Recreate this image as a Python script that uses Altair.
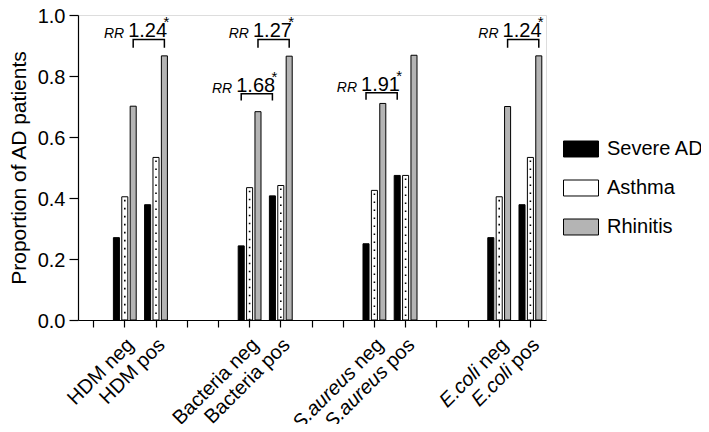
import altair as alt
import pandas as pd

FONT = "Liberation Sans, Arial, Helvetica, sans-serif"

# ---- data ----
slots = ["_0", "HDM neg", "HDM pos", "_3", "_4", "Bacteria neg", "Bacteria pos", "_7", "_8",
         "S.aureus neg", "S.aureus pos", "_11", "_12", "E.coli neg", "E.coli pos"]
categories = ["HDM neg", "HDM pos", "Bacteria neg", "Bacteria pos",
              "S.aureus neg", "S.aureus pos", "E.coli neg", "E.coli pos"]
label_italic = ["", "", "", "", "S.aureus", "S.aureus", "E.coli", "E.coli"]
label_plain = ["HDM neg", "HDM pos", "Bacteria neg", "Bacteria pos", "neg", "pos", "neg", "pos"]
series = ["Severe AD", "Asthma", "Rhinitis"]
severe_ad = [0.270, 0.378, 0.243, 0.407, 0.250, 0.474, 0.270, 0.378]
asthma = [0.404, 0.533, 0.434, 0.441, 0.425, 0.474, 0.404, 0.533]
rhinitis = [0.701, 0.866, 0.683, 0.865, 0.710, 0.868, 0.700, 0.866]
y_ticks = [0.0, 0.2, 0.4, 0.6, 0.8, 1.0]

br_left = ["HDM neg", "Bacteria neg", "Bacteria neg", "S.aureus neg", "E.coli neg"]
br_right = ["HDM pos", "Bacteria pos", "Bacteria pos", "S.aureus pos", "E.coli pos"]
br_series = ["Rhinitis", "Severe AD", "Rhinitis", "Severe AD", "Rhinitis"]
br_rr = ["1.24", "1.68", "1.27", "1.91", "1.24"]
br_top = [0.920, 0.742, 0.920, 0.745, 0.920]
br_tip = [0.893, 0.720, 0.893, 0.722, 0.893]

# ---- tables ----
rows = []
for s, vals in zip(series, [severe_ad, asthma, rhinitis]):
    for c, v in zip(categories, vals):
        rows.append({"category": c, "series": s, "value": v})
df = pd.DataFrame(rows)

lab_df = pd.DataFrame({"category": categories, "italic": label_italic, "plain": label_plain})

brows = []
for i in range(len(br_left)):
    pts = [(br_left[i], br_tip[i]), (br_left[i], br_top[i]),
           (br_right[i], br_top[i]), (br_right[i], br_tip[i])]
    for k, (c, y) in enumerate(pts):
        brows.append({"bid": i, "ord": k, "category": c, "series": br_series[i], "y": y})
br_df = pd.DataFrame(brows)
br_info = pd.DataFrame({"left": br_left, "right": br_right, "series": br_series,
                        "rr": br_rr, "top": br_top})

W, H = 468, 305

x_enc = alt.X("category:N",
              scale=alt.Scale(domain=slots, paddingInner=0, paddingOuter=0),
              axis=alt.Axis(labels=False, title=None, tickSize=7, tickColor="black",
                            tickWidth=1.2, domainColor="black", domainWidth=1.2, grid=False))
xo_enc = alt.XOffset("series:N", scale=alt.Scale(domain=series, paddingInner=0.28, paddingOuter=0.5))
y_scale = alt.Scale(domain=[0, 1])

bars = alt.Chart(df).mark_bar(stroke="black", strokeWidth=1).encode(
    x=x_enc,
    xOffset=xo_enc,
    y=alt.Y("value:Q", scale=y_scale,
            axis=alt.Axis(values=y_ticks, format=".1f", title="Proportion of AD patients",
                          titleFontSize=21, titleFont=FONT, titleFontWeight="normal",
                          titleColor="black", titlePadding=8,
                          labelFontSize=20, labelFont=FONT, labelColor="black",
                          labelPadding=4, labelOffset=1,
                          tickSize=9, tickColor="black", tickWidth=1.2,
                          domainColor="black", domainWidth=1.2, grid=False)),
    fill=alt.Fill("series:N",
                  scale=alt.Scale(domain=series, range=["#000000", "#ffffff", "#b4b4b4"]),
                  legend=alt.Legend(title=None, orient="none", legendX=485, legendY=116,
                                    symbolType="M-1,-0.457H1V0.457H-1Z", symbolSize=1225,
                                    symbolStrokeColor="black", symbolStrokeWidth=1,
                                    labelFontSize=20, labelFont=FONT, labelColor="black",
                                    labelOffset=8, rowPadding=11, padding=0)),
)

dots = alt.Chart(df).transform_filter(alt.datum.series == "Asthma").mark_rule(
    color="black", strokeWidth=1.6, strokeDash=[1.6, 6.4], strokeDashOffset=-3
).encode(
    x=alt.X("category:N"),
    xOffset=alt.XOffset("series:N"),
    y=alt.Y("value:Q"),
    y2=alt.datum(0),
)

brackets = alt.Chart(br_df).mark_line(color="black", strokeWidth=1.5).encode(
    x=alt.X("category:N"),
    xOffset=alt.XOffset("series:N"),
    y=alt.Y("y:Q"),
    detail="bid:N",
    order=alt.Order("ord:Q"),
)

rr_vals = alt.Chart(br_info).mark_text(align="left", baseline="alphabetic", dx=-5, dy=-2,
                                       fontSize=20, font=FONT, color="black").encode(
    x=alt.X("left:N"), xOffset=alt.XOffset("series:N"), y=alt.Y("top:Q"), text="rr:N")

rr_lbl = alt.Chart(br_info).mark_text(text="RR", align="right", baseline="alphabetic", dx=-9,
                                      dy=-1, fontSize=14, fontStyle="italic", font=FONT,
                                      color="black").encode(
    x=alt.X("left:N"), xOffset=alt.XOffset("series:N"), y=alt.Y("top:Q"))

stars = alt.Chart(br_info).mark_text(text="*", align="left", baseline="alphabetic", dx=-1,
                                     dy=-12, fontSize=15, font=FONT, color="black").encode(
    x=alt.X("right:N"), xOffset=alt.XOffset("series:N"), y=alt.Y("top:Q"))

LBL_Y = 327
xl_plain = alt.Chart(lab_df).mark_text(angle=315, align="right", baseline="middle",
                                       dx=4.2, dy=4.2, fontSize=20, font=FONT,
                                       color="black").encode(
    x=alt.X("category:N"), y=alt.value(LBL_Y), text="plain:N")

xl_it_neg = alt.Chart(lab_df).transform_filter(
    (alt.datum.italic != "") & (alt.datum.plain == "neg")
).mark_text(angle=315, align="right", baseline="middle", dx=4.2 - 39, dy=4.2,
            fontSize=20, font=FONT, fontStyle="italic", color="black").encode(
    x=alt.X("category:N"), y=alt.value(LBL_Y), text="italic:N")

xl_it_pos = alt.Chart(lab_df).transform_filter(
    (alt.datum.italic != "") & (alt.datum.plain == "pos")
).mark_text(angle=315, align="right", baseline="middle", dx=4.2 - 37.8, dy=4.2,
            fontSize=20, font=FONT, fontStyle="italic", color="black").encode(
    x=alt.X("category:N"), y=alt.value(LBL_Y), text="italic:N")

chart = alt.layer(
    bars, dots, brackets, rr_vals, rr_lbl, stars, xl_plain, xl_it_neg, xl_it_pos
).properties(
    width=W, height=H,
    autosize=alt.AutoSizeParams(type="none"),
    padding={"left": 70, "top": 7, "right": 693 - 70 - W, "bottom": 416 - 7 - H},
).configure_view(stroke=None).configure(background="white")

chart.save("out.html", embed_options={"renderer": "svg", "actions": False})
